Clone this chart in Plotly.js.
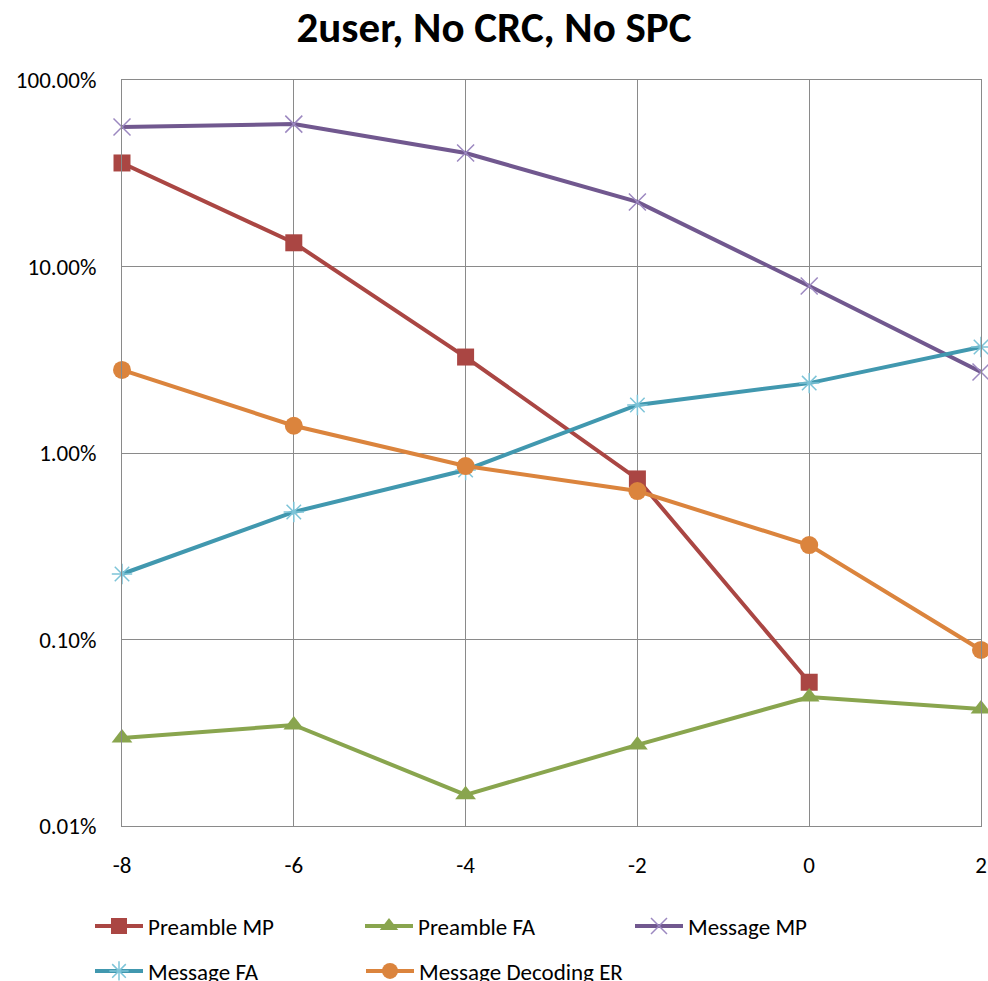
<!DOCTYPE html>
<html>
<head>
<meta charset="utf-8">
<script src="https://cdn.plot.ly/plotly-3.0.1.min.js"></script>
<style>html,body{margin:0;padding:0;background:#fff;}#chart{width:988px;height:981px;}</style>
</head>
<body>
<div id="chart"></div>
<script>
const snr = [-8, -6, -4, -2, 0, 2];
const preambleMP = [0.359, 0.134, 0.0327, 0.00726, 0.00059, null];
const preambleFA = [0.000296, 0.000348, 0.000147, 0.000272, 0.000492, 0.000424];
const messageMP = [0.56, 0.58, 0.406, 0.222, 0.0786, 0.0272];
const messageFA = [0.002245, 0.00483, 0.00811, 0.0181, 0.0237, 0.037];
const messageDecER = [0.0279, 0.0140, 0.00851, 0.00625, 0.00321, 0.000879];
const yTickVals = [1, 0.1, 0.01, 0.001, 0.0001];
const yTickText = ['100.00%', '10.00%', '1.00%', '0.10%', '0.01%'];
const xTickVals = [-8, -6, -4, -2, 0, 2];

const FONT = "Carlito, 'Liberation Sans Narrow', 'Open Sans', sans-serif";

function tr(name, y, color, symbol, mcolor, size, lw, legend) {
  return {
    x: snr, y: y, name: name, type: 'scatter', mode: 'lines+markers',
    cliponaxis: false, legend: legend,
    line: {color: color, width: 4},
    marker: {symbol: symbol, size: size, color: mcolor, line: {color: mcolor, width: lw}}
  };
}

const data = [
  tr('Preamble MP', preambleMP, '#AA4643', 'square', '#AA4643', 17, 0, 'legend'),
  tr('Preamble FA', preambleFA, '#89A54E', 'triangle-up', '#89A54E', 18, 0, 'legend'),
  tr('Message MP', messageMP, '#71588F', 'x-thin-open', '#9C88C0', 17, 1.5, 'legend'),
  tr('Message FA', messageFA, '#4198AF', 'asterisk-open', '#7DC4D8', 17, 1.5, 'legend2'),
  tr('Message Decoding ER', messageDecER, '#DB843D', 'circle', '#DB843D', 18, 0, 'legend3')
];

const legendCommon = {
  orientation: 'h', xref: 'container', yref: 'container',
  xanchor: 'left', yanchor: 'middle', entrywidth: 207,
  font: {family: FONT, size: 23, color: '#000'}, bgcolor: 'rgba(0,0,0,0)',
  itemwidth: 48, tracegroupgap: 0
};

const layout = {
  width: 988, height: 981,
  margin: {l: 122, r: 7, t: 80, b: 155},
  paper_bgcolor: '#fff', plot_bgcolor: '#fff',
  font: {family: FONT, size: 23, color: '#000'},
  title: {text: '<b>2user, No CRC, No SPC</b>', font: {family: FONT, size: 43, color: '#000'},
          x: 0.5, xanchor: 'center', y: 1 - 27/981, yanchor: 'middle'},
  xaxis: {
    range: [-8, 2], tickvals: xTickVals, ticktext: xTickVals.map(String),
    showgrid: true, gridcolor: '#8A8A8A', gridwidth: 1,
    showline: true, linecolor: '#8A8A8A', linewidth: 1, mirror: true,
    zeroline: false, ticks: '', ticklabelstandoff: 18,
    tickfont: {family: FONT, size: 23, color: '#000'}
  },
  yaxis: {
    type: 'log', range: [-4, 0], tickvals: yTickVals, ticktext: yTickText,
    showgrid: true, gridcolor: '#8A8A8A', gridwidth: 1,
    showline: true, linecolor: '#8A8A8A', linewidth: 1, mirror: true,
    zeroline: false, ticks: '', ticklabelstandoff: 20,
    tickfont: {family: FONT, size: 23, color: '#000'}
  },
  legend: Object.assign({}, legendCommon, {x: 90/988, y: 1 - 926/981}),
  legend2: Object.assign({}, legendCommon, {x: 90/988, y: 1 - 971/981}),
  legend3: Object.assign({}, legendCommon, {x: 361/988, y: 1 - 971/981}),
  showlegend: true
};

Plotly.newPlot('chart', data, layout, {displayModeBar: false, staticPlot: true});
</script>
</body>
</html>
